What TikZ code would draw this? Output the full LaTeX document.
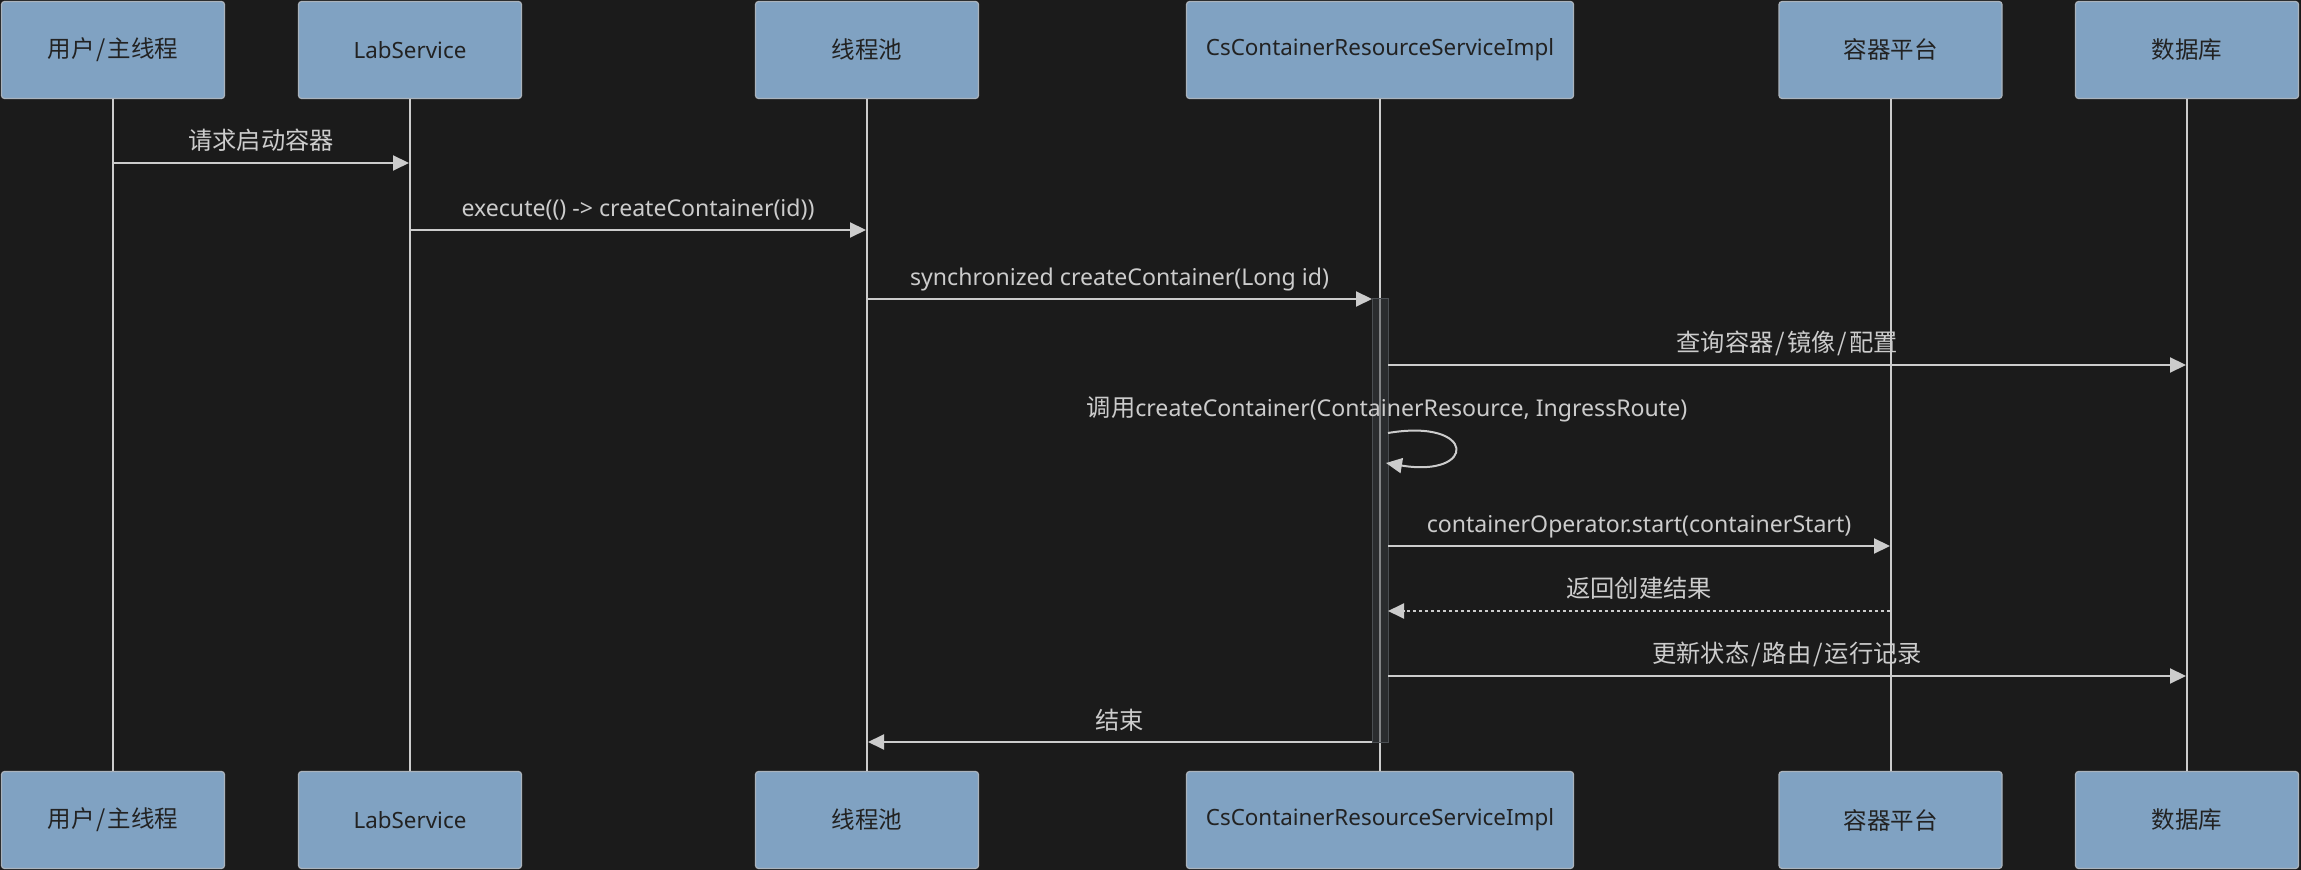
\documentclass[tikz,border=0pt]{standalone}
\usepackage{fontspec}
\setmainfont{Noto Sans}
\newfontfamily\cjk[Scale=1.05]{Noto Sans CJK SC}
\usetikzlibrary{arrows.meta}
\definecolor{bg}{HTML}{1B1B1B}
\definecolor{boxfill}{HTML}{80A2C2}
\definecolor{boxline}{HTML}{AAB3BC}
\definecolor{boxtext}{HTML}{222222}
\definecolor{linec}{HTML}{CCCCCC}
\definecolor{actfill}{HTML}{3A3E42}
\definecolor{actline}{HTML}{4A4E52}
\newcommand{\myslash}{\hspace{1pt}/\hspace{1pt}}
\begin{document}
\begin{tikzpicture}[x=0.5pt,y=-0.5pt,
  actor/.style={draw=boxline, line width=0.6pt, fill=boxfill, rounded corners=1.5pt,
    minimum height=48.5pt, minimum width=111.5pt, inner sep=0pt, text=boxtext,
    font=\fontsize{11.2pt}{13pt}\selectfont},
  wide/.style={minimum width=193.5pt},
  lifeline/.style={draw=linec, line width=1pt},
  msg/.style={draw=linec, line width=1pt, -{Triangle[length=8pt,width=7.5pt]}},
  reply/.style={msg, dash pattern=on 1.5pt off 1.5pt},
  lbl/.style={text=linec, anchor=base, inner sep=0pt, font=\fontsize{11.55pt}{13pt}\selectfont},
  actbar/.style={draw=actline, line width=0.5pt, fill=actfill, fill opacity=0.5,
    minimum width=8pt, minimum height=221.5pt, inner sep=0pt}]
\fill[bg] (0,0) rectangle (2301,870);
\useasboundingbox (0,0) rectangle (2301,870);

% actors top
\node[actor] (t1) at (113,50) {\cjk 用户\myslash 主线程};
\node[actor] (t2) at (410,50) {LabService};
\node[actor] (t3) at (867,50) {\cjk 线程池};
\node[actor, wide] (t4) at (1380,50) {CsContainerResourceServiceImpl};
\node[actor] (t5) at (1890.5,50) {\cjk 容器平台};
\node[actor] (t6) at (2187,50) {\cjk 数据库};
% actors bottom
\node[actor] (b1) at (113,820) {\cjk 用户\myslash 主线程};
\node[actor] (b2) at (410,820) {LabService};
\node[actor] (b3) at (867,820) {\cjk 线程池};
\node[actor, wide] (b4) at (1380,820) {CsContainerResourceServiceImpl};
\node[actor] (b5) at (1890.5,820) {\cjk 容器平台};
\node[actor] (b6) at (2187,820) {\cjk 数据库};

% lifelines
\foreach \i in {1,...,6} { \draw[lifeline] (t\i.south) -- (b\i.north); }

% activation bar
\node[actbar] (act) at (1380,520.5) {};

% message endpoints
\coordinate (m1a) at (113,163);  \coordinate (m1b) at (409,163);
\coordinate (m2a) at (410,230);  \coordinate (m2b) at (866,230);
\coordinate (m3a) at (867,299);  \coordinate (m3b) at (1372,299);
\coordinate (m4a) at (1388,365); \coordinate (m4b) at (2186,365);
\coordinate (s1) at (1388,433);  \coordinate (s2) at (1386,463);
\coordinate (m6a) at (1388,546); \coordinate (m6b) at (1890,546);
\coordinate (m7a) at (1890,611); \coordinate (m7b) at (1388,611);
\coordinate (m8a) at (1388,676); \coordinate (m8b) at (2186,676);
\coordinate (m9a) at (1372,742); \coordinate (m9b) at (868,742);

\draw[msg] (m1a) -- (m1b);
\draw[msg] (m2a) -- (m2b);
\draw[msg] (m3a) -- (m3b);
\draw[msg] (m4a) -- (m4b);
\draw[msg] (s1) .. controls (1477,418) and (1477,478) .. (s2);
\draw[msg] (m6a) -- (m6b);
\draw[reply] (m7a) -- (m7b);
\draw[msg] (m8a) -- (m8b);
\draw[msg] (m9a) -- (m9b);

% labels
\node[lbl] (l1) at (261,150) {\cjk 请求启动容器};
\node[lbl] (l2) at (638,217) {execute(() -> createContainer(id))};
\node[lbl] (l3) at (1119.5,286) {synchronized createContainer(Long id)};
\node[lbl] (l4) at (1787,352) {\cjk 查询容器\myslash 镜像\myslash 配置};
\node[lbl] (l5) at (1387,417) {{\cjk 调用}createContainer(ContainerResource, IngressRoute)};
\node[lbl] (l6) at (1639,533) {containerOperator.start(containerStart)};
\node[lbl] (l7) at (1639,598) {\cjk 返回创建结果};
\node[lbl] (l8) at (1787,663) {\cjk 更新状态\myslash 路由\myslash 运行记录};
\node[lbl] (l9) at (1119.5,729) {\cjk 结束};
\end{tikzpicture}
\end{document}
